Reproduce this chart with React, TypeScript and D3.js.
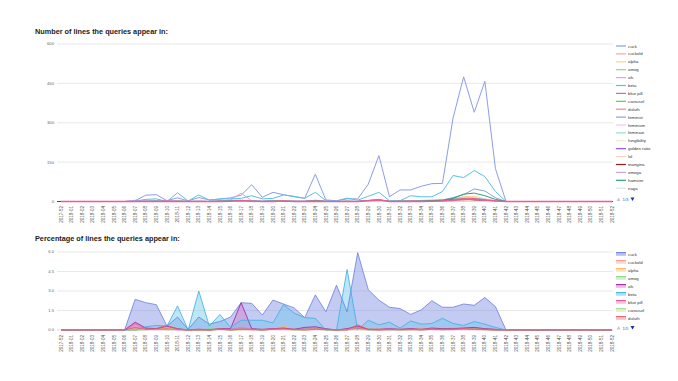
import React from "react";
import * as d3 from "d3";

const weeks = [
  "2017-52", "2018-01", "2018-02", "2018-03", "2018-04", "2018-05", "2018-06", "2018-07", "2018-08", "2018-09",
  "2018-10", "2018-11", "2018-12", "2018-13", "2018-14", "2018-15", "2018-16", "2018-17", "2018-18", "2018-19",
  "2018-20", "2018-21", "2018-22", "2018-23", "2018-24", "2018-25", "2018-26", "2018-27", "2018-28", "2018-29",
  "2018-30", "2018-31", "2018-32", "2018-33", "2018-34", "2018-35", "2018-36", "2018-37", "2018-38", "2018-39",
  "2018-40", "2018-41", "2018-42", "2018-43", "2018-44", "2018-45", "2018-46", "2018-47", "2018-48", "2018-49",
  "2018-50", "2018-51", "2018-52",
];

const topTicks = [0, 150, 300, 450, 600];
const botTicks = [0, 1.5, 3, 4.5, 6];
const botTickLabels = ["0.0", "1.5", "3.0", "4.5", "6.0"];

// ---- Top chart: number of lines ----
const topCuck = [0, 0, 0, 0, 0, 0, 0, 3, 24, 26, 3, 14, 2, 15, 6, 9, 14, 24, 64, 16, 35, 26, 18, 12, 104, 6, 3, 10, 10, 66, 175, 18, 44, 44, 58, 68, 69, 318, 475, 340, 458, 125, 0, 0, 0, 0, 0, 0, 0, 0, 0, 0, 0];
const topCuckold = [0, 0, 0, 0, 0, 0, 0, 0, 1, 0, 0, 2, 0, 1, 0, 0, 1, 2, 1, 0, 2, 1, 0, 0, 2, 0, 0, 1, 0, 1, 3, 0, 1, 0, 1, 2, 3, 6, 9, 12, 8, 2, 0, 0, 0, 0, 0, 0, 0, 0, 0, 0, 0];
const topAlpha = [0, 0, 0, 0, 0, 0, 0, 0, 0, 1, 0, 1, 0, 0, 0, 1, 2, 3, 1, 0, 1, 2, 1, 0, 3, 0, 0, 0, 0, 2, 4, 0, 1, 2, 3, 4, 6, 12, 18, 20, 10, 3, 0, 0, 0, 0, 0, 0, 0, 0, 0, 0, 0];
const topAmog = [0, 0, 0, 0, 0, 0, 0, 0, 1, 0, 0, 0, 1, 0, 0, 1, 0, 1, 2, 0, 1, 0, 1, 0, 2, 0, 0, 1, 0, 1, 2, 0, 0, 1, 2, 1, 2, 4, 6, 5, 3, 1, 0, 0, 0, 0, 0, 0, 0, 0, 0, 0, 0];
const topAfc = [0, 0, 0, 0, 0, 0, 0, 5, 2, 0, 3, 2, 0, 1, 0, 2, 6, 32, 3, 0, 2, 1, 0, 2, 3, 0, 0, 1, 0, 4, 8, 0, 1, 0, 2, 0, 4, 10, 6, 8, 3, 1, 0, 0, 0, 0, 0, 0, 0, 0, 0, 0, 0];
const topBeta = [0, 0, 0, 0, 0, 0, 0, 2, 8, 10, 0, 33, 2, 25, 5, 10, 10, 12, 22, 10, 12, 25, 20, 12, 35, 3, 2, 13, 5, 20, 35, 3, 3, 22, 18, 18, 38, 99, 91, 118, 95, 38, 0, 0, 0, 0, 0, 0, 0, 0, 0, 0, 0];
const topBluePill = [0, 0, 0, 0, 0, 0, 0, 0, 0, 0, 1, 0, 0, 0, 0, 0, 1, 3, 1, 0, 0, 2, 0, 0, 1, 0, 0, 0, 0, 3, 6, 0, 0, 1, 0, 1, 2, 5, 8, 10, 6, 2, 0, 0, 0, 0, 0, 0, 0, 0, 0, 0, 0];
const topCarousel = [0, 0, 0, 0, 0, 0, 0, 0, 0, 0, 0, 0, 0, 0, 0, 0, 0, 1, 0, 0, 0, 1, 0, 0, 1, 0, 0, 0, 0, 1, 2, 0, 0, 0, 1, 0, 1, 2, 3, 4, 2, 0, 0, 0, 0, 0, 0, 0, 0, 0, 0, 0, 0];
const topDuluth = [0, 0, 0, 0, 0, 0, 0, 0, 1, 0, 1, 0, 0, 0, 0, 0, 1, 2, 0, 0, 1, 0, 0, 0, 2, 0, 0, 0, 0, 2, 3, 0, 0, 0, 1, 1, 2, 4, 6, 7, 4, 1, 0, 0, 0, 0, 0, 0, 0, 0, 0, 0, 0];
const topFeminist = [0, 0, 0, 0, 0, 0, 0, 0, 2, 3, 0, 1, 0, 1, 0, 3, 4, 5, 3, 2, 4, 3, 2, 1, 5, 0, 0, 1, 0, 3, 6, 1, 2, 3, 4, 5, 6, 15, 26, 48, 40, 14, 0, 0, 0, 0, 0, 0, 0, 0, 0, 0, 0];
const topFeminism = [0, 0, 0, 0, 0, 0, 0, 0, 0, 0, 0, 0, 0, 0, 0, 0, 1, 1, 0, 0, 0, 0, 0, 0, 1, 0, 0, 0, 0, 1, 1, 0, 0, 0, 0, 1, 1, 2, 3, 3, 2, 0, 0, 0, 0, 0, 0, 0, 0, 0, 0, 0, 0];
const topFeminazi = [0, 0, 0, 0, 0, 0, 0, 0, 1, 1, 0, 2, 0, 1, 0, 1, 2, 3, 2, 1, 2, 2, 1, 0, 3, 0, 0, 1, 0, 2, 4, 0, 1, 2, 3, 3, 5, 10, 16, 14, 9, 3, 0, 0, 0, 0, 0, 0, 0, 0, 0, 0, 0];
const topFungibility = [0, 0, 0, 0, 0, 0, 0, 0, 0, 0, 0, 0, 0, 0, 0, 0, 0, 0, 0, 0, 0, 0, 0, 0, 0, 0, 0, 0, 0, 0, 1, 0, 0, 0, 0, 0, 0, 1, 1, 1, 0, 0, 0, 0, 0, 0, 0, 0, 0, 0, 0, 0, 0];
const topGoldenRatio = [0, 0, 0, 0, 0, 0, 0, 0, 0, 0, 0, 0, 0, 0, 0, 0, 1, 1, 0, 0, 1, 0, 0, 0, 1, 0, 0, 0, 0, 4, 6, 0, 0, 0, 1, 1, 1, 3, 6, 5, 3, 1, 0, 0, 0, 0, 0, 0, 0, 0, 0, 0, 0];
const topLol = [0, 0, 0, 0, 0, 0, 0, 0, 0, 0, 0, 1, 0, 0, 0, 0, 0, 1, 0, 0, 0, 0, 0, 0, 0, 0, 0, 0, 0, 1, 1, 0, 0, 0, 1, 0, 1, 3, 4, 3, 2, 0, 0, 0, 0, 0, 0, 0, 0, 0, 0, 0, 0];
const topMangina = [0, 0, 0, 0, 0, 0, 0, 0, 0, 0, 0, 0, 0, 0, 0, 0, 0, 1, 0, 0, 0, 0, 0, 0, 1, 0, 0, 0, 0, 1, 2, 0, 0, 0, 0, 1, 3, 8, 10, 6, 4, 1, 0, 0, 0, 0, 0, 0, 0, 0, 0, 0, 0];
const topOmega = [0, 0, 0, 0, 0, 0, 0, 0, 1, 0, 0, 1, 0, 0, 0, 1, 1, 2, 1, 0, 1, 1, 0, 0, 2, 0, 0, 0, 0, 2, 3, 0, 0, 1, 1, 2, 3, 6, 9, 8, 5, 2, 0, 0, 0, 0, 0, 0, 0, 0, 0, 0, 0];
const topHamster = [0, 0, 0, 0, 0, 0, 0, 0, 0, 1, 0, 1, 0, 0, 0, 1, 2, 2, 1, 0, 1, 1, 0, 0, 2, 0, 0, 0, 0, 2, 4, 0, 1, 1, 2, 3, 5, 12, 28, 32, 22, 8, 0, 0, 0, 0, 0, 0, 0, 0, 0, 0, 0];
const topNaga = [0, 0, 0, 0, 0, 0, 0, 0, 0, 0, 0, 0, 0, 0, 0, 0, 0, 0, 0, 0, 0, 0, 0, 0, 0, 0, 0, 0, 0, 0, 0, 0, 0, 0, 0, 0, 0, 1, 1, 1, 0, 0, 0, 0, 0, 0, 0, 0, 0, 0, 0, 0, 0];

const topNames = ["cuck", "cuckold", "alpha", "amog", "afc", "beta", "blue pill", "carousel", "duluth", "feminist", "feminism", "feminazi", "fungibility", "golden ratio", "lol", "mangina", "omega", "hamster", "naga"];
const topColors = ["#8c9dea", "#f4a89e", "#fbd38e", "#8ed88e", "#eaa0e0", "#55c2ea", "#ef5a98", "#66cc44", "#f08896", "#86a5d4", "#f3c3ee", "#96dfd3", "#eef0d0", "#9650e8", "#f7d6bc", "#9a1b1b", "#cda6d6", "#2e9d77", "#e2e2e2"];
const topValues = [topCuck, topCuckold, topAlpha, topAmog, topAfc, topBeta, topBluePill, topCarousel, topDuluth, topFeminist, topFeminism, topFeminazi, topFungibility, topGoldenRatio, topLol, topMangina, topOmega, topHamster, topNaga];

// ---- Bottom chart: percentage of lines ----
const botCuck = [0, 0, 0, 0, 0, 0, 0, 2.36, 2.1, 1.95, 0.3, 1.0, 0.05, 1.0, 0.45, 0.65, 1.0, 2.1, 2.05, 1.15, 2.3, 2.0, 1.7, 0.95, 2.7, 1.4, 3.45, 1.4, 5.95, 3.1, 2.3, 1.75, 1.65, 1.2, 1.55, 2.25, 1.75, 1.75, 2.0, 1.9, 2.5, 1.8, 0, 0, 0, 0, 0, 0, 0, 0, 0, 0, 0];
const botCuckold = [0, 0, 0, 0, 0, 0, 0, 0.1, 0.05, 0.15, 0.35, 0.1, 0, 0.05, 0, 0.05, 0, 0.1, 0.05, 0.05, 0.1, 0.1, 0.05, 0, 0.1, 0.05, 0, 0.05, 0.2, 0.05, 0.1, 0.05, 0.05, 0.1, 0.05, 0.1, 0.1, 0.15, 0.2, 0.15, 0.1, 0.05, 0, 0, 0, 0, 0, 0, 0, 0, 0, 0, 0];
const botAlpha = [0, 0, 0, 0, 0, 0, 0, 0, 0.05, 0.1, 0.15, 0.05, 0, 0, 0, 0.15, 0, 0.05, 0, 0.05, 0.05, 0.3, 0.05, 0, 0.05, 0.05, 0, 0, 0.4, 0.05, 0.05, 0.05, 0, 0.05, 0.1, 0.1, 0.05, 0.1, 0.15, 0.1, 0.05, 0, 0, 0, 0, 0, 0, 0, 0, 0, 0, 0, 0];
const botAmog = [0, 0, 0, 0, 0, 0, 0, 0, 0.05, 0.05, 0.05, 0.1, 0, 0, 0.1, 0.1, 0, 0.05, 0.05, 0, 0.05, 0.1, 0, 0.05, 0.1, 0, 0, 0.05, 0.1, 0, 0.05, 0, 0.05, 0.05, 0, 0.05, 0.05, 0.1, 0.05, 0.1, 0.05, 0, 0, 0, 0, 0, 0, 0, 0, 0, 0, 0, 0];
const botAfc = [0, 0, 0, 0, 0, 0, 0, 0.6, 0.15, 0.1, 0.3, 0.1, 0, 0.05, 0, 0.1, 0.1, 2.1, 0.1, 0.05, 0.1, 0.15, 0.05, 0.2, 0.25, 0.1, 0, 0.1, 0.3, 0.05, 0.05, 0.1, 0.05, 0.1, 0.05, 0.15, 0.1, 0.1, 0.15, 0.2, 0.1, 0.05, 0, 0, 0, 0, 0, 0, 0, 0, 0, 0, 0];
const botBeta = [0, 0, 0, 0, 0, 0, 0, 0, 0.25, 0.35, 0.3, 1.85, 0, 3.0, 0.3, 1.2, 0.2, 0.75, 0.75, 0.75, 0.55, 1.95, 1.3, 0.95, 0.9, 0, 0, 4.65, 0, 0.75, 0.4, 0.6, 0.15, 0.7, 0.45, 0.5, 0.9, 0.5, 0.35, 0.65, 0.45, 0.2, 0, 0, 0, 0, 0, 0, 0, 0, 0, 0, 0];
const botBluePill = [0, 0, 0, 0, 0, 0, 0, 0.5, 0.1, 0.05, 0.1, 0, 0, 0.05, 0, 0.1, 0.05, 0.15, 0.05, 0, 0.1, 0.1, 0.05, 0.1, 0.15, 0.05, 0, 0.05, 0.15, 0.05, 0, 0.05, 0, 0.05, 0.05, 0.1, 0.05, 0.05, 0.1, 0.1, 0.05, 0, 0, 0, 0, 0, 0, 0, 0, 0, 0, 0, 0];
const botCarousel = [0, 0, 0, 0, 0, 0, 0, 0, 0, 0.05, 0, 0.05, 0, 0, 0, 0.05, 0, 0, 0.05, 0, 0.05, 0.05, 0, 0, 0.05, 0, 0, 0, 0.05, 0, 0, 0.05, 0, 0, 0.05, 0.05, 0, 0.05, 0.05, 0.05, 0, 0, 0, 0, 0, 0, 0, 0, 0, 0, 0, 0, 0];
const botDuluth = [0, 0, 0, 0, 0, 0, 0, 0.2, 0.05, 0.1, 0.35, 0.05, 0, 0, 0, 0.05, 0, 0.05, 0.05, 0, 0.05, 0.1, 0.05, 0, 0.05, 0.05, 0, 0, 0.4, 0.05, 0, 0.05, 0.05, 0.05, 0, 0.05, 0.05, 0.05, 0.1, 0.05, 0.05, 0, 0, 0, 0, 0, 0, 0, 0, 0, 0, 0, 0];

const botNames = ["cuck", "cuckold", "alpha", "amog", "afc", "beta", "blue pill", "carousel", "duluth"];
const botLineColors = ["#6d7fdc", "#f29a8e", "#f9b860", "#86d486", "#a31ca0", "#3cb0e0", "#ee4a8e", "#a6dc8a", "#e0606c"];
const botFillColors = ["#7b8ce2", "#f7b5ab", "#fbcb85", "#a5dfa5", "#d77ccb", "#6ec8ee", "#f390bb", "#c0e8aa", "#ec8d96"];
const botValues = [botCuck, botCuckold, botAlpha, botAmog, botAfc, botBeta, botBluePill, botCarousel, botDuluth];

const FONT = "'Liberation Sans', Arial, sans-serif";

export default function App() {
  const x = d3.scalePoint<string>().domain(weeks).range([61, 612]);
  const yTop = d3.scaleLinear().domain([0, 600]).range([201.5, 44]);
  const yBot = d3.scaleLinear().domain([0, 6]).range([330, 252]);
  const gridX0 = 57;
  const gridX1 = 613;

  const lineTop = d3
    .line<number>()
    .x((_, i) => x(weeks[i]) as number)
    .y((d) => yTop(d));
  const areaBot = d3
    .area<number>()
    .x((_, i) => x(weeks[i]) as number)
    .y0(yBot(0))
    .y1((d) => yBot(d));
  const lineBot = d3
    .line<number>()
    .x((_, i) => x(weeks[i]) as number)
    .y((d) => yBot(d));

  const bluePillIdx = topNames.indexOf("blue pill");
  const topOrder = topValues.map((_, i) => i).filter((i) => i !== bluePillIdx).concat([bluePillIdx]);
  const botBlue = botNames.indexOf("blue pill");
  const botOrder = botValues.map((_, i) => i).filter((i) => i !== botBlue).concat([botBlue]);

  return (
    <svg
      width={678}
      height={381}
      style={{ position: "absolute", left: 0, top: 0, background: "#fff" }}
      fontFamily={FONT}
    >
      <rect width={678} height={381} fill="#ffffff" />

      {/* ---------- Top chart ---------- */}
      <text x={35} y={33.5} fontSize={7.3} fontWeight="bold" fill="#222">
        Number of lines the queries appear in:
      </text>
      {topTicks.map((t) => (
        <g key={"tg" + t}>
          {t !== 0 && (
            <line x1={gridX0} x2={gridX1} y1={yTop(t)} y2={yTop(t)} stroke="#e3e3e3" strokeWidth={0.8} />
          )}
          <text x={54} y={yTop(t)} dy="0.35em" fontSize={4.2} textAnchor="end" fill="#666">
            {t}
          </text>
        </g>
      ))}
      <line x1={gridX0} x2={gridX1} y1={yTop(0)} y2={yTop(0)} stroke="#333" strokeWidth={0.9} />
      {topOrder.map((si) => (
        <path
          key={"tl" + si}
          d={lineTop(topValues[si]) as string}
          fill="none"
          stroke={topColors[si]}
          strokeWidth={si === bluePillIdx ? 1.6 : 1}
          strokeLinejoin="round"
        />
      ))}
      {weeks.map((w) => (
        <text
          key={"tx" + w}
          transform={`translate(${x(w)},206) rotate(-90)`}
          fontSize={4.6}
          textAnchor="end"
          dy="0.35em"
          fill="#555"
        >
          {w}
        </text>
      ))}
      {topNames.map((n, i) => {
        const ly = 46 + i * 7.9;
        return (
          <g key={"tleg" + n}>
            <line x1={616} x2={626} y1={ly} y2={ly} stroke={topColors[i]} strokeWidth={1.2} />
            <text x={628} y={ly} dy="0.35em" fontSize={4.3} fill="#333">
              {n}
            </text>
          </g>
        );
      })}
      <path d="M616.5,201 L618.5,197.5 L620.5,201 Z" fill="#c8c8c8" />
      <text x={622.5} y={199.5} dy="0.35em" fontSize={4.3} fill="#3366cc">
        1/3
      </text>
      <path d="M630.5,197.5 L634.5,197.5 L632.5,201 Z" fill="#1a2fb0" />

      {/* ---------- Bottom chart ---------- */}
      <text x={35} y={241} fontSize={7.3} fontWeight="bold" fill="#222">
        Percentage of lines the queries appear in:
      </text>
      {botTicks.map((t, i) => (
        <g key={"bg" + t}>
          {t !== 0 && (
            <line x1={gridX0} x2={gridX1} y1={yBot(t)} y2={yBot(t)} stroke="#e3e3e3" strokeWidth={0.8} />
          )}
          <text x={54} y={yBot(t)} dy="0.35em" fontSize={4.2} textAnchor="end" fill="#666">
            {botTickLabels[i]}
          </text>
        </g>
      ))}
      <line x1={gridX0} x2={gridX1} y1={yBot(0)} y2={yBot(0)} stroke="#f4c4dc" strokeWidth={0.9} />
      {botOrder.map((si) => (
        <g key={"ba" + si}>
          <path d={areaBot(botValues[si]) as string} fill={botFillColors[si]} fillOpacity={0.45} stroke="none" />
        </g>
      ))}
      {botOrder.map((si) => (
        <path
          key={"bl" + si}
          d={lineBot(botValues[si]) as string}
          fill="none"
          stroke={botLineColors[si]}
          strokeOpacity={si === botBlue ? 0.4 : 0.9}
          strokeWidth={si === botBlue ? 1.6 : 0.9}
          strokeLinejoin="round"
        />
      ))}
      {weeks.map((w) => (
        <text
          key={"bx" + w}
          transform={`translate(${x(w)},335) rotate(-90)`}
          fontSize={4.6}
          textAnchor="end"
          dy="0.35em"
          fill="#555"
        >
          {w}
        </text>
      ))}
      {botNames.map((n, i) => {
        const ly = 254 + i * 8;
        return (
          <g key={"bleg" + n}>
            <rect x={616} y={ly - 1.6} width={10} height={3.4} fill={botFillColors[i]} fillOpacity={0.55} />
            <line x1={616} x2={626} y1={ly - 1.4} y2={ly - 1.4} stroke={botLineColors[i]} strokeWidth={1} />
            <text x={628} y={ly} dy="0.35em" fontSize={4.3} fill="#333">
              {n}
            </text>
          </g>
        );
      })}
      <path d="M616.5,329.5 L618.5,326 L620.5,329.5 Z" fill="#c8c8c8" />
      <text x={622.5} y={328} dy="0.35em" fontSize={4.3} fill="#3366cc">
        1/5
      </text>
      <path d="M630.5,326 L634.5,326 L632.5,329.5 Z" fill="#1a2fb0" />
    </svg>
  );
}
